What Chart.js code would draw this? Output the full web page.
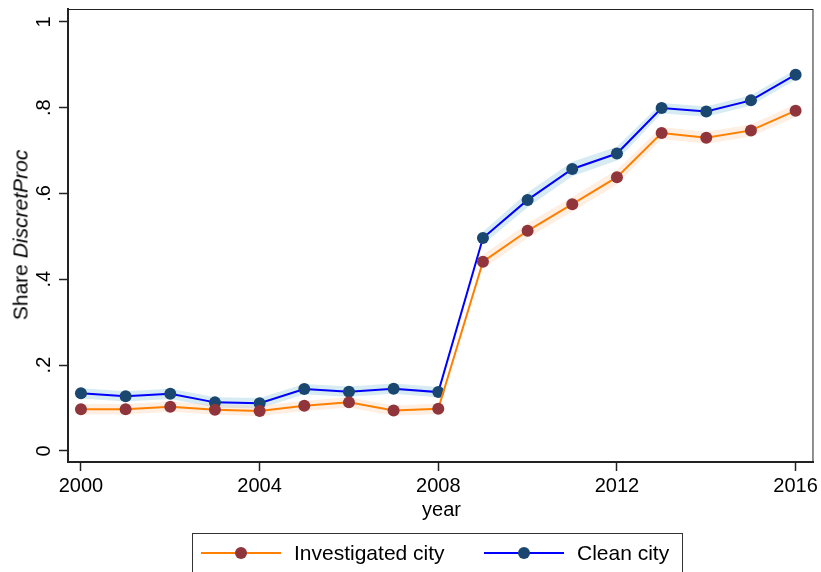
<!DOCTYPE html>
<html lang="en">
<head>
    <meta charset="UTF-8">
    <title>Share DiscretProc</title>
    <script src="https://cdn.jsdelivr.net/npm/chart.js"></script>
    <style>
        body { margin: 0; background: #fff; font-family: "Liberation Sans", Arial, sans-serif; }
        .wrap { position: relative; width: 821px; height: 572px; overflow: hidden; }
        .ytitle {
            position: absolute; left: 20px; top: 235px; white-space: nowrap;
            font-size: 21px; line-height: 1; color: #000;
            transform: translate(-50%, -50%) rotate(-90deg);
        }
        .xtitle {
            position: absolute; left: 68px; width: 747px; top: 498px; text-align: center;
            font-size: 20px; line-height: 22px; color: #000;
        }
        .legend {
            position: absolute; left: 192px; top: 533px; width: 491px; height: 44px;
            border: 1px solid #333; box-sizing: border-box;
        }
        .item { position: absolute; top: 0; height: 38px; font-size: 21px; line-height: 38px; color: #000; white-space: nowrap; }
        .sym { position: absolute; top: 18px; width: 80px; height: 2px; }
        .dot { position: absolute; top: -5px; left: 34px; width: 12px; height: 12px; border-radius: 50%; }
    </style>
</head>
<body>
<div class="wrap">
    <canvas id="myChart" width="821" height="572"></canvas>
    <div class="ytitle">Share <i>DiscretProc</i></div>
    <div class="xtitle">year</div>
    <div class="legend">
        <div class="sym" style="left:8px;background:rgb(255,128,0)"><div class="dot" style="background:#90353b"></div></div>
        <div class="item" style="left:101px">Investigated city</div>
        <div class="sym" style="left:291px;background:#0000ff"><div class="dot" style="background:#1a476f"></div></div>
        <div class="item" style="left:384px">Clean city</div>
    </div>
</div>

<script>
const years = [2000, 2001, 2002, 2003, 2004, 2005, 2006, 2007, 2008,
               2009, 2010, 2011, 2012, 2013, 2014, 2015, 2016];

const investigated   = [0.097, 0.097, 0.103, 0.096, 0.093, 0.105, 0.113, 0.094, 0.098,
                        0.441, 0.513, 0.575, 0.638, 0.741, 0.730, 0.747, 0.793];
const investigatedLo = [0.085, 0.085, 0.091, 0.084, 0.081, 0.093, 0.101, 0.082, 0.086,
                        0.425, 0.496, 0.558, 0.621, 0.727, 0.716, 0.733, 0.778];
const investigatedHi = [0.109, 0.109, 0.115, 0.108, 0.105, 0.117, 0.125, 0.106, 0.110,
                        0.457, 0.530, 0.592, 0.655, 0.755, 0.744, 0.761, 0.808];

const clean   = [0.134, 0.127, 0.133, 0.113, 0.111, 0.144, 0.138, 0.145, 0.137,
                 0.496, 0.585, 0.657, 0.693, 0.799, 0.791, 0.817, 0.877];
const cleanLo = [0.122, 0.115, 0.121, 0.101, 0.099, 0.132, 0.126, 0.133, 0.125,
                 0.481, 0.568, 0.640, 0.677, 0.787, 0.779, 0.805, 0.865];
const cleanHi = [0.146, 0.139, 0.145, 0.125, 0.123, 0.156, 0.150, 0.157, 0.149,
                 0.511, 0.602, 0.674, 0.709, 0.811, 0.803, 0.829, 0.889];

const xTicks = [2000, 2004, 2008, 2012, 2016];
const yTicks = [0, 0.2, 0.4, 0.6, 0.8, 1];
const yTickLabels = ['0', '.2', '.4', '.6', '.8', '1'];

// the bands are drawn in two pieces: before and after the 2008/2009 jump
const periods = [[0, 9], [9, 17]];

function pts(arr, a, b) {
    return years.slice(a, b).map((x, i) => ({ x: x, y: arr[a + i] }));
}

const datasets = [];
periods.forEach(([a, b]) => {
    datasets.push({ data: pts(cleanLo, a, b), borderWidth: 0, pointRadius: 0, fill: false, order: 10 });
    datasets.push({ data: pts(cleanHi, a, b), borderWidth: 0, pointRadius: 0, fill: '-1',
                    backgroundColor: 'rgba(173,216,230,0.5)', order: 10 });
    datasets.push({ data: pts(investigatedLo, a, b), borderWidth: 0, pointRadius: 0, fill: false, order: 9 });
    datasets.push({ data: pts(investigatedHi, a, b), borderWidth: 0, pointRadius: 0, fill: '-1',
                    backgroundColor: 'rgba(255,200,160,0.3)', order: 9 });
});
datasets.push({
    label: 'Clean city', data: pts(clean, 0, 17), borderColor: '#0000ff', borderWidth: 2,
    pointRadius: 6, pointBackgroundColor: '#1a476f', pointBorderWidth: 0, tension: 0, order: 2
});
datasets.push({
    label: 'Investigated city', data: pts(investigated, 0, 17), borderColor: 'rgb(255,128,0)', borderWidth: 2,
    pointRadius: 6, pointBackgroundColor: '#90353b', pointBorderWidth: 0, tension: 0, order: 1
});

const frameAndLabels = {
    id: 'frameAndLabels',
    afterDraw(chart) {
        const ctx = chart.ctx;
        const a = chart.chartArea;
        ctx.save();
        ctx.strokeStyle = '#222';
        ctx.lineWidth = 1;
        ctx.strokeRect(a.left, a.top + 0.5, a.right - a.left - 0.5, a.bottom - a.top);
        // rotated y tick labels
        const ys = chart.scales.y;
        ctx.fillStyle = '#000';
        ctx.font = '20px "Liberation Sans", Arial, sans-serif';
        ctx.textAlign = 'center';
        ctx.textBaseline = 'alphabetic';
        yTicks.forEach((v, i) => {
            ctx.save();
            ctx.translate(50, ys.getPixelForValue(v));
            ctx.rotate(-Math.PI / 2);
            ctx.fillText(yTickLabels[i], 0, 0);
            ctx.restore();
        });
        ctx.restore();
    }
};

new Chart(document.getElementById('myChart'), {
    type: 'line',
    data: { datasets: datasets },
    options: {
        responsive: false,
        animation: false,
        layout: { padding: { top: 9, right: 6, left: 0, bottom: 0 } },
        plugins: { legend: { display: false }, tooltip: { enabled: false } },
        scales: {
            x: {
                type: 'linear', min: 1999.71, max: 2016.4,
                afterFit: s => { s.height = 110; },
                afterBuildTicks: s => { s.ticks = xTicks.map(v => ({ value: v })); },
                grid: { drawOnChartArea: false, drawTicks: true, tickLength: 9, tickColor: '#222', tickWidth: 1.5 },
                border: { display: true, color: '#222', width: 2 },
                ticks: { color: '#000', padding: 3, maxRotation: 0, font: { family: '"Liberation Sans", Arial, sans-serif', size: 20 },
                         callback: v => String(v) }
            },
            y: {
                type: 'linear', min: -0.026, max: 1.03,
                afterFit: s => { s.width = 68; },
                afterBuildTicks: s => { s.ticks = yTicks.map(v => ({ value: v })); },
                grid: { drawOnChartArea: false, drawTicks: true, tickLength: 9, tickColor: '#222', tickWidth: 1.5 },
                border: { display: true, color: '#222', width: 2 },
                ticks: { display: false }
            }
        }
    },
    plugins: [frameAndLabels]
});
</script>
</body>
</html>
